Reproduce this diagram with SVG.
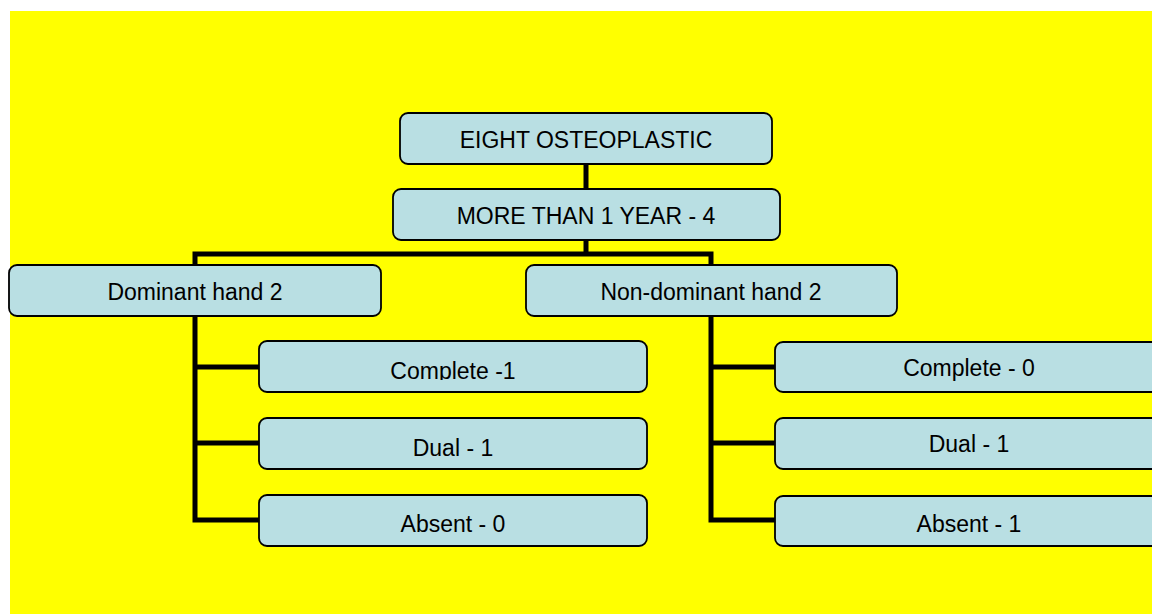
<svg xmlns="http://www.w3.org/2000/svg" width="1152" height="614" viewBox="0 0 1152 614">
<style>
.box{fill:#B9DFE3;stroke:#000;stroke-width:1.8}
.lbl{font-family:"Liberation Sans",Arial,sans-serif;font-size:23px;fill:#000;text-anchor:middle}
.con{fill:none;stroke:#000;stroke-width:5;stroke-linejoin:miter}
</style>
<defs>
<clipPath id="clipC1"><rect x="259" y="340" width="388" height="40"/></clipPath>
</defs>
<rect x="0" y="0" width="1152" height="614" fill="#fff"/>
<rect x="10" y="11" width="1142" height="603" fill="#FFFF00"/>
<g id="connectors">
<path class="con" d="M586 164V189M586 240V254M195 265V254H711V265"/>
<path class="con" d="M195 316V520H259M195 367H259M195 443H259"/>
<path class="con" d="M711 316V520H775M711 367H775M711 443H775"/>
</g>
<g id="n-root"><rect class="box" x="400" y="113" width="372" height="51" rx="8"/><text class="lbl" x="586" y="148">EIGHT OSTEOPLASTIC</text></g>
<g id="n-year"><rect class="box" x="393" y="189" width="387" height="51" rx="8"/><text class="lbl" x="586" y="224">MORE THAN 1 YEAR - 4</text></g>
<g id="n-dom"><rect class="box" x="9" y="265" width="372" height="51" rx="8"/><text class="lbl" x="195" y="300">Dominant hand 2</text></g>
<g id="n-nondom"><rect class="box" x="526" y="265" width="371" height="51" rx="8"/><text class="lbl" x="711" y="300">Non-dominant hand 2</text></g>
<g id="n-l-complete"><rect class="box" x="259" y="341" width="388" height="51" rx="8"/><text class="lbl" x="453" y="379" clip-path="url(#clipC1)">Complete -1</text></g>
<g id="n-l-dual"><rect class="box" x="259" y="418" width="388" height="51" rx="8"/><text class="lbl" x="453" y="456">Dual - 1</text></g>
<g id="n-l-absent"><rect class="box" x="259" y="495" width="388" height="51" rx="8"/><text class="lbl" x="453" y="532">Absent - 0</text></g>
<g id="n-r-complete"><rect class="box" x="775" y="342" width="388" height="50" rx="8"/><text class="lbl" x="969" y="376">Complete - 0</text></g>
<g id="n-r-dual"><rect class="box" x="775" y="418" width="388" height="51" rx="8"/><text class="lbl" x="969" y="452">Dual - 1</text></g>
<g id="n-r-absent"><rect class="box" x="775" y="496" width="388" height="50" rx="8"/><text class="lbl" x="969" y="532">Absent - 1</text></g>
</svg>
